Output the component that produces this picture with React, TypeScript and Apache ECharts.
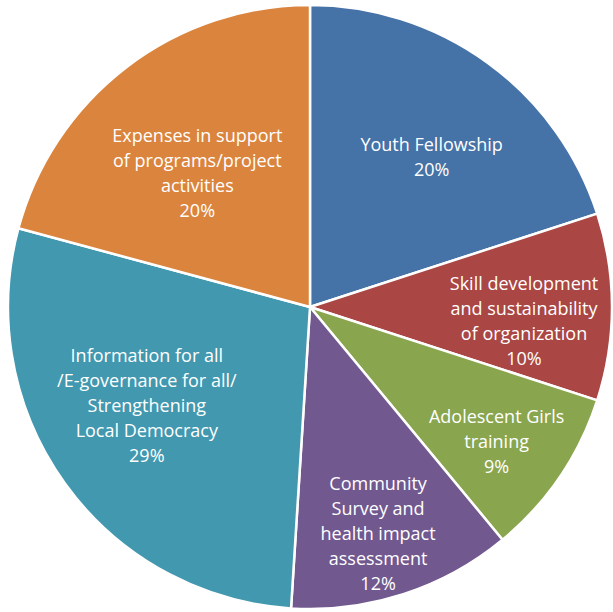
import React, { useEffect, useRef } from "react";
import * as echarts from "echarts";

const categories = [
  "Youth Fellowship",
  "Skill development\nand sustainability\nof organization",
  "Adolescent Girls\ntraining",
  "Community\nSurvey and\nhealth impact\nassessment",
  "Information for all\n/E-governance for all/\nStrengthening\nLocal Democracy",
  "Expenses in support\nof programs/project\nactivities",
];
// slice sizes as drawn in the picture (percent of the circle)
const values = [20, 10, 9, 12, 28.2, 20.8];
// percentages printed in the labels
const pctLabels = ["20%", "10%", "9%", "12%", "29%", "20%"];
const colors = ["#4572A7", "#AA4643", "#89A54E", "#71588F", "#4198AF", "#DB843D"];

// label placement (layout): fraction of radius and angle shift in degrees
const labelRadius = [0.64, 0.71, 0.76, 0.78, 0.63, 0.58];
const labelShift = [-3, -3.5, -1.4, -1.2, -4.7, 2.6];

const CX = 310;
const CY = 307;
const R = 302;

export default function App() {
  const ref = useRef<HTMLDivElement>(null);
  useEffect(() => {
    if (!ref.current) return;
    const chart = echarts.init(ref.current, undefined, { renderer: "svg" });
    const total = values.reduce((a, b) => a + b, 0);
    const cum: number[] = [];
    let acc = 0;
    values.forEach((v) => {
      cum.push(acc + v / 2);
      acc += v;
    });
    chart.setOption({
      animation: false,
      backgroundColor: "#ffffff",
      series: [
        {
          type: "pie",
          center: [CX, CY],
          radius: R,
          startAngle: 90,
          clockwise: true,
          itemStyle: { borderColor: "#ffffff", borderWidth: 2.5 },
          label: {
            show: true,
            position: "inside",
            color: "#ffffff",
            fontFamily: "Open Sans",
            fontSize: 18,
            lineHeight: 25,
            align: "center",
            formatter: (p: any) => `${p.name}\n${pctLabels[p.dataIndex]}`,
          },
          labelLine: { show: false },
          emphasis: { disabled: true },
          labelLayout: (p: any) => {
            const i = p.dataIndex;
            const ang = ((90 - (cum[i] / total) * 360 + labelShift[i]) * Math.PI) / 180;
            const d = labelRadius[i] * R;
            return {
              x: CX + d * Math.cos(ang),
              y: CY - d * Math.sin(ang),
              align: "center",
              verticalAlign: "middle",
            };
          },
          data: categories.map((c, i) => ({
            name: c,
            value: values[i],
            itemStyle: { color: colors[i] },
          })),
        },
      ],
    });
    return () => chart.dispose();
  }, []);
  return (
    <div
      ref={ref}
      style={{ position: "fixed", left: 0, top: 0, width: 613, height: 612 }}
    />
  );
}
